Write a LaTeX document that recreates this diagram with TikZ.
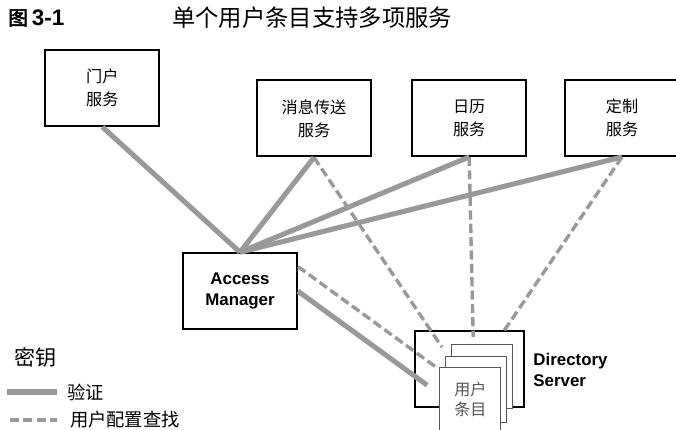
\documentclass[tikz,border=0pt]{standalone}
\usepackage{fontspec}
\setmainfont{Liberation Sans}
\newfontfamily\cjk[AutoFakeBold=2.5]{Noto Sans CJK SC}
\usepackage{tikz}
\usetikzlibrary{positioning}
\definecolor{linegray}{HTML}{999999}
\definecolor{pagegray}{HTML}{555555}
\tikzset {
  % service and manager boxes
  box/.style = {draw, line width=1.4pt, minimum width=2.85cm, minimum height=1.9cm,
    align=center, font=\cjk\fontsize{11.5}{16.5}\selectfont},
  bold/.style = {font=\bfseries\fontsize{12}{15}\selectfont, align=center},
  % stacked user entries
  page/.style = {draw=pagegray, line width=0.7pt, fill=white, minimum width=1.525cm,
    text=pagegray, align=center, font=\cjk\fontsize{11.4}{14.2}\selectfont},
  % authentication and profile lookup
  auth/.style = {linegray, line width=3.6pt},
  lookup/.style = {linegray, line width=2.4pt, dash pattern=on 6.5pt off 3pt},
  legend/.style = {anchor=west, inner sep=0pt, font=\cjk\fontsize{13}{15}\selectfont},
}

\begin{document}
\begin{tikzpicture}
        \clip (0, 0) rectangle (16.9, -10.75);

        \node[anchor=west, inner sep=0pt] (fig) at (0.2, -0.45)
          {{\cjk\bfseries\fontsize{14}{15}\selectfont 图} {\bfseries\fontsize{16}{18}\selectfont 3-1}};
        \node[anchor=west, inner sep=0pt, font=\cjk\fontsize{16.6}{18}\selectfont] (title) at (4.3, -0.45)
          {单个用户条目支持多项服务};

        \node[box] (portal) at (2.56, -2.2) {门户\\服务};
        \node[box] (msg) at (7.85, -2.96) {消息传送\\服务};
        \node[box] (cal) at (11.73, -2.95) {日历\\服务};
        \node[box] (custom) at (15.55, -2.95) {定制\\服务};
        \node[box, bold] (am) at (6.0, -7.28) {Access\\Manager};
        \node[box, minimum width=2.725cm] (ds) at (11.74, -9.23) {};
        \node[bold, anchor=west, inner sep=0pt, align=left] (dslabel) at (13.33, -9.25) {Directory\\Server};

        \coordinate (amend) at (10.68, -9.63);
        \coordinate (msgend) at (11.05, -8.68);
        \coordinate (calend) at (11.83, -8.43);
        \coordinate (custend) at (12.58, -8.3);
        \coordinate (amdash) at (10.93, -9.2);

        \draw [auth] (portal.south) -- (am.north);
        \draw [auth] (msg.south) -- (am.north);
        \draw [auth] (cal.south) -- (am.north);
        \draw [auth] (custom.south) -- (am.north);
        \draw [auth] (am.east) -- (amend);

        \draw [lookup] (msg.south) -- (msgend);
        \draw [lookup] (cal.south) -- (calend);
        \draw [lookup] (custom.south) -- (custend);
        \draw [lookup] (am.23) -- (amdash);

        \node[page, minimum height=1.6cm] (back) at (12.04, -9.4) {};
        \node[page, minimum height=1.65cm] (middle) at (11.91, -9.73) {};
        \node[page, minimum height=1.625cm] (front) at (11.76, -9.99) {用户\\条目};

        % key
        \node[legend, font=\cjk\fontsize{15}{17}\selectfont] (key) at (0.35, -8.93) {密钥};
        \node[legend, outer xsep=0.25cm] (authlabel) at (1.425, -9.8) {验证};
        \node[legend, outer xsep=0.325cm] (lookuplabel) at (1.425, -10.5) {用户配置查找};
        \coordinate (k1) at (0.175, -9.8);
        \coordinate (k2) at (0.25, -10.5);
        \draw [auth] (k1) -- (authlabel.west);
        \draw [lookup] (k2) -- (lookuplabel.west);
      \end{tikzpicture}
\end{document}
